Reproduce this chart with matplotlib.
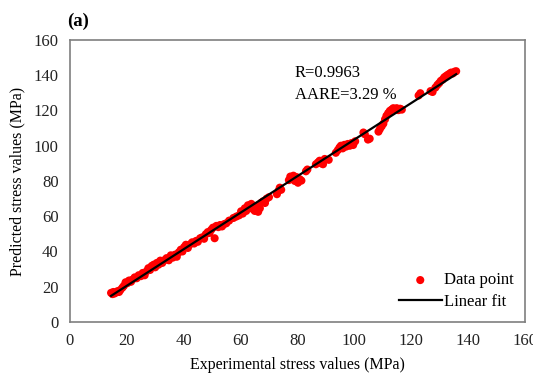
import matplotlib.pyplot as plt
import numpy as np

plt.rcParams['font.family'] = ['Liberation Serif', 'DejaVu Serif']

# Experimental vs predicted stress (MPa)
exp_stress = [14.5, 15.0, 15.3, 15.8, 16.2, 16.8, 17.3, 17.8, 18.5, 19.0,
              19.6, 20.2, 20.8, 21.5, 22.0, 22.8, 23.5, 24.2, 25.0, 25.6,
              26.3, 27.0, 27.6, 28.2, 28.8, 29.5, 30.0, 30.6, 31.2, 31.8,
              32.5, 33.2, 34.0, 34.8, 35.5, 36.2, 37.0, 37.6, 38.3, 39.0,
              39.6, 40.2, 40.8, 41.5, 42.2, 43.0, 43.7, 44.4, 45.0, 45.8,
              46.5, 47.2, 47.8, 48.5, 49.1, 49.7, 50.3, 50.9, 51.5, 52.2,
              52.8, 53.5, 54.2, 55.0, 56.0, 57.5, 58.5, 59.5, 60.2, 60.8,
              61.5, 62.0, 62.6, 63.2, 63.8, 64.4, 65.0, 65.6, 66.2, 66.8,
              67.4, 68.0, 68.6, 69.2, 70.0, 72.8, 73.4, 73.8, 74.3, 77.0,
              77.5, 78.0, 78.6, 79.1, 79.7, 80.2, 80.8, 81.4, 83.0, 83.5,
              86.5, 87.2, 87.8, 88.4, 89.0, 89.6, 91.0, 93.5, 94.2, 94.8,
              95.3, 95.9, 96.5, 97.1, 97.7, 98.4, 99.0, 99.6, 100.3, 103.2,
              103.7, 104.8, 105.4, 108.5, 109.0, 109.6, 110.2, 110.8, 111.3, 111.9,
              112.5, 113.1, 113.7, 114.3, 114.9, 115.5, 116.1, 116.7, 122.6, 123.2,
              126.8, 127.5, 128.5, 129.2, 129.8, 130.4, 131.0, 131.6, 132.2, 132.8,
              133.4, 134.0, 134.6, 135.2, 135.8]
pred_stress = [16.5, 15.8, 17.0, 16.2, 16.8, 17.5, 17.0, 18.2, 19.5, 20.5,
               22.5, 22.0, 23.5, 22.8, 24.0, 25.3, 24.8, 26.5, 26.0, 27.8,
               26.5, 28.8, 30.5, 29.5, 31.8, 32.5, 31.0, 33.5, 32.5, 34.8,
               33.5, 35.0, 36.2, 35.0, 37.8, 36.5, 38.2, 37.0, 39.5, 41.0,
               40.0, 42.5, 43.8, 42.0, 44.0, 45.2, 44.5, 46.0, 45.5, 47.5,
               48.0, 47.2, 49.8, 51.0, 50.5, 52.3, 53.5, 47.5, 54.5, 53.8,
               55.0, 54.2, 55.5, 56.0, 57.5, 59.0, 59.8, 60.5, 62.8, 61.5,
               64.5, 63.0, 66.2, 65.0, 67.0, 64.0, 63.0, 65.5, 62.5, 64.5,
               67.8, 68.5, 67.5, 70.0, 70.8, 72.5, 74.5, 76.2, 75.0, 80.5,
               82.5, 81.5, 83.0, 80.0, 82.2, 79.0, 81.0, 80.2, 85.5, 86.5,
               89.5, 90.5, 91.5, 90.0, 89.5, 92.5, 92.0, 96.0, 97.5, 99.0,
               100.0, 98.5, 100.5, 99.5, 101.0, 100.0, 101.5, 100.4, 102.5, 107.5,
               106.5, 103.5, 104.0, 108.0, 109.5, 111.0, 112.5, 115.0, 117.0, 118.5,
               119.8, 120.5, 121.3, 120.5, 121.3, 120.2, 121.0, 120.5, 128.5, 129.8,
               131.0, 130.5, 133.0, 134.5, 135.5, 136.8, 137.5, 138.8, 139.5, 140.2,
               140.8, 141.5, 141.0, 142.0, 142.3]

x = np.array(exp_stress)
y = np.array(pred_stress)
slope, intercept = np.polyfit(x, y, 1)
fit_x = np.array([x.min(), x.max()])

fig = plt.figure(figsize=(5.33, 3.81), dpi=100)
ax = fig.add_axes([0.131, 0.155, 0.854, 0.740])

ax.scatter(x, y, s=34, color='#ff0000', edgecolors='none', label='Data point', zorder=2)
ax.plot(fit_x, slope * fit_x + intercept, color='black', lw=1.6, label='Linear fit', zorder=3)

ax.set_xlim(0, 160)
ax.set_ylim(0, 160)
ax.set_xticks(np.arange(0, 161, 20))
ax.set_yticks(np.arange(0, 161, 20))
ax.tick_params(length=0, labelsize=12, pad=8, colors='#222222')
for sp in ax.spines.values():
    sp.set_color('#7f7f7f')
    sp.set_linewidth(1.2)

ax.set_xlabel('Experimental stress values (MPa)', fontsize=11.5, labelpad=6)
ax.set_ylabel('Predicted stress values (MPa)', fontsize=11.5, labelpad=6)

ax.text(79, 141, 'R=0.9963', fontsize=12, va='center', ha='left')
ax.text(79, 129, 'AARE=3.29 %', fontsize=12, va='center', ha='left')
fig.text(0.125, 0.945, '(a)', fontsize=13.5, fontweight='bold', ha='left', va='center')

ax.legend(loc='lower right', frameon=False, fontsize=12, handlelength=2.6,
          handletextpad=0.1, labelspacing=0.35, borderaxespad=0.3, scatterpoints=1)

fig.savefig('out.png', dpi=100)
